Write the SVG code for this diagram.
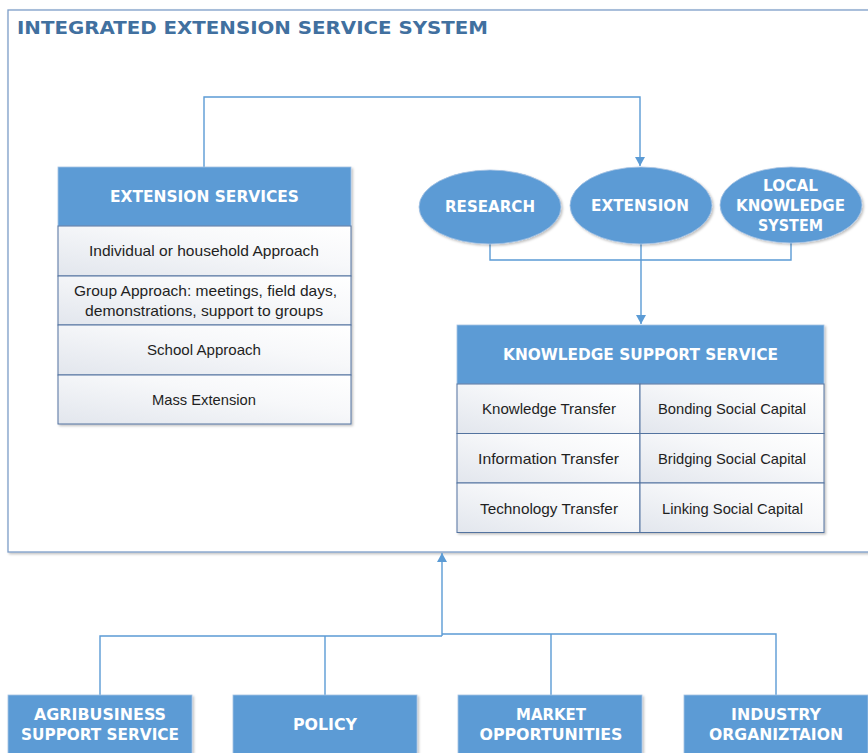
<svg xmlns="http://www.w3.org/2000/svg" width="868" height="753" viewBox="0 0 868 753">
  <defs>
    <style>
      .frame { fill: #ffffff; stroke: #7d9dc8; stroke-width: 1.3; }
      .head { fill: #5b9bd5; stroke: #a7c3e3; stroke-width: 0.8; }
      .row { fill: url(#rowfill); stroke: #52739f; stroke-width: 1; }
      .oval { fill: #5b9bd5; stroke: #a7c3e3; stroke-width: 0.8; }
      .title { font-family: "DejaVu Sans", Verdana, sans-serif; font-weight: bold; font-size: 17.5px; fill: #41709f; }
      .hd { font-family: "DejaVu Sans", Verdana, sans-serif; font-weight: bold; font-size: 15.5px; fill: #ffffff; text-anchor: middle; }
      .cond { font-family: "DejaVu Sans Condensed", "DejaVu Sans", sans-serif; font-stretch: condensed; font-weight: bold; font-size: 16px; fill: #ffffff; text-anchor: middle; }
      .body { font-family: "Liberation Sans", Arial, sans-serif; font-size: 14.5px; fill: #1f1f1f; text-anchor: middle; }
      .link { fill: none; stroke: #5b9bd5; stroke-width: 1.4; }
    </style>
    <linearGradient id="rowfill" x1="0" y1="1" x2="1" y2="0">
      <stop offset="0" stop-color="#e2e6ed"/>
      <stop offset="0.6" stop-color="#f7f8fa"/>
      <stop offset="1" stop-color="#ffffff"/>
    </linearGradient>
    <filter id="shadow" x="-5%" y="-5%" width="112%" height="115%">
      <feDropShadow dx="1.5" dy="1.5" stdDeviation="1.2" flood-color="#000000" flood-opacity="0.25"/>
    </filter>
    <marker id="arrow" viewBox="0 0 10 10" refX="10" refY="5" markerWidth="9" markerHeight="10" markerUnits="userSpaceOnUse" orient="auto" preserveAspectRatio="none">
      <path d="M0,0 L10,5 L0,10 z" fill="#5b9bd5"/>
    </marker>
  </defs>

  <!-- outer system frame -->
  <g id="system">
    <rect class="frame" x="8" y="10" width="870" height="542" filter="url(#shadow)"/>
    <text class="title" x="17" y="33.5" textLength="471" lengthAdjust="spacingAndGlyphs">INTEGRATED EXTENSION SERVICE SYSTEM</text>
  </g>

  <!-- connectors -->
  <g id="connectors">
    <path class="link" d="M204,167 V97 H640 V166" marker-end="url(#arrow)"/>
    <path class="link" d="M490,244 V260 H791 V243"/>
    <path class="link" d="M641,244 V324" marker-end="url(#arrow)"/>
    <path class="link" d="M442,636 V553" marker-end="url(#arrow)"/>
    <path class="link" d="M100,695 V636 H442"/>
    <path class="link" d="M325,695 V636"/>
    <path class="link" d="M442,634 H776 V695"/>
    <path class="link" d="M551,695 V634"/>
  </g>

  <!-- extension services table -->
  <g id="extension-services">
    <g filter="url(#shadow)">
      <rect class="head" x="58" y="167" width="293" height="59"/>
      <rect class="row" x="58" y="226" width="293" height="50"/>
      <rect class="row" x="58" y="276" width="293" height="49"/>
      <rect class="row" x="58" y="325" width="293" height="50"/>
      <rect class="row" x="58" y="375" width="293" height="49"/>
    </g>
    <text class="hd" x="204.5" y="201.5" textLength="189" lengthAdjust="spacingAndGlyphs">EXTENSION SERVICES</text>
    <text class="body" x="204" y="255.5" textLength="230" lengthAdjust="spacingAndGlyphs">Individual or household Approach</text>
    <text class="body" x="205.5" y="296" textLength="263" lengthAdjust="spacingAndGlyphs">Group Approach: meetings, field days,</text>
    <text class="body" x="204" y="315.5" textLength="238" lengthAdjust="spacingAndGlyphs">demonstrations, support to groups</text>
    <text class="body" x="204" y="355" textLength="114" lengthAdjust="spacingAndGlyphs">School Approach</text>
    <text class="body" x="204" y="404.5" textLength="104" lengthAdjust="spacingAndGlyphs">Mass Extension</text>
  </g>

  <!-- knowledge sources -->
  <g id="research">
    <ellipse class="oval" cx="490" cy="207" rx="71" ry="37" filter="url(#shadow)"/>
    <text class="hd" x="490" y="211.5" textLength="90" lengthAdjust="spacingAndGlyphs">RESEARCH</text>
  </g>
  <g id="extension">
    <ellipse class="oval" cx="641" cy="205.5" rx="71" ry="38.5" filter="url(#shadow)"/>
    <text class="hd" x="640" y="210.5" textLength="98" lengthAdjust="spacingAndGlyphs">EXTENSION</text>
  </g>
  <g id="local-knowledge">
    <ellipse class="oval" cx="791" cy="205" rx="71" ry="38" filter="url(#shadow)"/>
    <text class="hd" x="790.5" y="190.5" textLength="55" lengthAdjust="spacingAndGlyphs">LOCAL</text>
    <text class="hd" x="790.5" y="210.5" textLength="109" lengthAdjust="spacingAndGlyphs">KNOWLEDGE</text>
    <text class="hd" x="790.5" y="231" textLength="65" lengthAdjust="spacingAndGlyphs">SYSTEM</text>
  </g>

  <!-- knowledge support service table -->
  <g id="knowledge-support">
    <g filter="url(#shadow)">
      <rect class="head" x="457" y="325" width="367" height="59"/>
      <rect class="row" x="457" y="384" width="183" height="49.5"/>
      <rect class="row" x="640" y="384" width="184" height="49.5"/>
      <rect class="row" x="457" y="433.5" width="183" height="49.5"/>
      <rect class="row" x="640" y="433.5" width="184" height="49.5"/>
      <rect class="row" x="457" y="483" width="183" height="49.5"/>
      <rect class="row" x="640" y="483" width="184" height="49.5"/>
    </g>
    <text class="hd" x="640.5" y="359.5" textLength="275" lengthAdjust="spacingAndGlyphs">KNOWLEDGE SUPPORT SERVICE</text>
    <text class="body" x="549" y="413.5" textLength="134" lengthAdjust="spacingAndGlyphs">Knowledge Transfer</text>
    <text class="body" x="732" y="413.5" textLength="148" lengthAdjust="spacingAndGlyphs">Bonding Social Capital</text>
    <text class="body" x="548.5" y="463.5" textLength="141" lengthAdjust="spacingAndGlyphs">Information Transfer</text>
    <text class="body" x="732" y="463.5" textLength="148" lengthAdjust="spacingAndGlyphs">Bridging Social Capital</text>
    <text class="body" x="549" y="513.5" textLength="138" lengthAdjust="spacingAndGlyphs">Technology Transfer</text>
    <text class="body" x="732.5" y="513.5" textLength="141" lengthAdjust="spacingAndGlyphs">Linking Social Capital</text>
  </g>

  <!-- external drivers -->
  <g id="agribusiness">
    <rect class="head" x="8" y="695" width="184" height="70" filter="url(#shadow)"/>
    <text class="cond" x="100" y="720" textLength="132" lengthAdjust="spacingAndGlyphs">AGRIBUSINESS</text>
    <text class="cond" x="100" y="740" textLength="158" lengthAdjust="spacingAndGlyphs">SUPPORT SERVICE</text>
  </g>
  <g id="policy">
    <rect class="head" x="233" y="695" width="184" height="70" filter="url(#shadow)"/>
    <text class="cond" x="325" y="730" textLength="64" lengthAdjust="spacingAndGlyphs">POLICY</text>
  </g>
  <g id="market">
    <rect class="head" x="458" y="695" width="184" height="70" filter="url(#shadow)"/>
    <text class="cond" x="551" y="720" textLength="70" lengthAdjust="spacingAndGlyphs">MARKET</text>
    <text class="cond" x="551" y="740" textLength="143" lengthAdjust="spacingAndGlyphs">OPPORTUNITIES</text>
  </g>
  <g id="industry">
    <rect class="head" x="684" y="695" width="184" height="70" filter="url(#shadow)"/>
    <text class="cond" x="776" y="720" textLength="90" lengthAdjust="spacingAndGlyphs">INDUSTRY</text>
    <text class="cond" x="776" y="740" textLength="134" lengthAdjust="spacingAndGlyphs">ORGANIZTAION</text>
  </g>
</svg>
